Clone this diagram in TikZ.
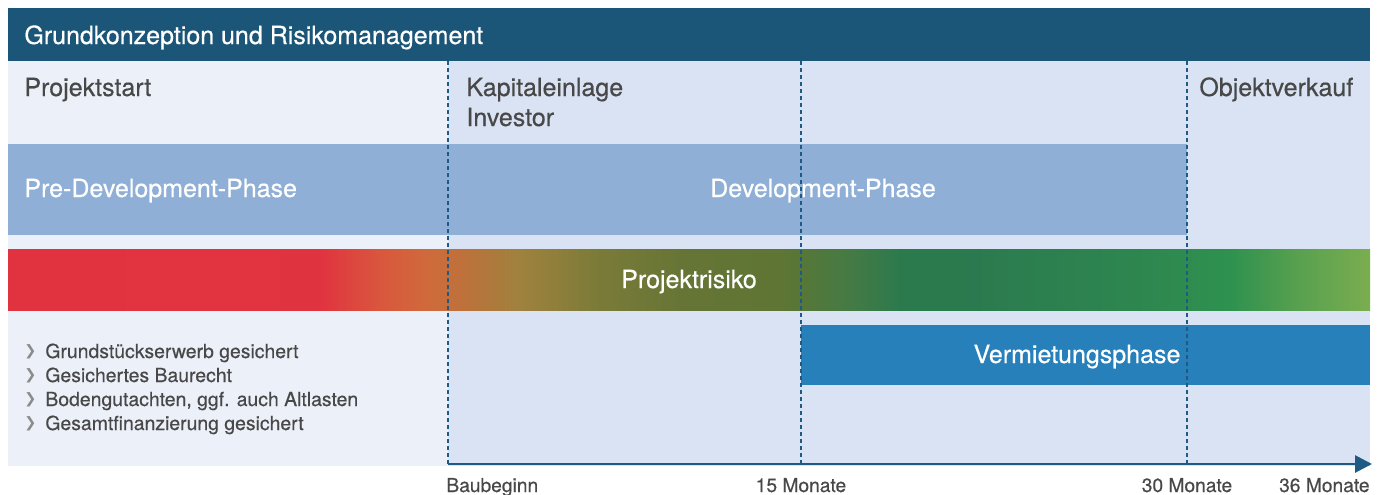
\documentclass[tikz,border=0pt]{standalone}
\usepackage{fontspec}
\setmainfont{TeX Gyre Heros}
\newfontfamily\mittel{TeX Gyre Heros}[FakeBold=0.45]
\newfontfamily\zeichen{DejaVu Sans}
\usepackage{tikz}
\usetikzlibrary{arrows.meta}

\definecolor{kopfblau}{HTML}{1B5679}
\definecolor{hellgrund}{HTML}{ECF0F9}
\definecolor{blaugrund}{HTML}{DAE3F3}
\definecolor{phasenblau}{HTML}{8FAFD6}
\definecolor{mietblau}{HTML}{2880BB}
\definecolor{textgrau}{HTML}{484848}
\definecolor{pfeilgrau}{HTML}{8C8C8C}
\definecolor{linienblau}{HTML}{1E5A82}

\pgfdeclarehorizontalshading{risiko}{100bp}{%
  rgb(0bp)=(0.89,0.19,0.25); rgb(36.45bp)=(0.88,0.20,0.25);
  rgb(38.66bp)=(0.85,0.34,0.24); rgb(40.49bp)=(0.81,0.42,0.23);
  rgb(41.59bp)=(0.75,0.44,0.23); rgb(43.80bp)=(0.62,0.51,0.24);
  rgb(46.73bp)=(0.48,0.48,0.22); rgb(49.67bp)=(0.40,0.46,0.21);
  rgb(53.34bp)=(0.37,0.46,0.20); rgb(55.91bp)=(0.27,0.48,0.27);
  rgb(57.75bp)=(0.17,0.48,0.30); rgb(60.68bp)=(0.17,0.48,0.31);
  rgb(66.92bp)=(0.18,0.53,0.31); rgb(69.86bp)=(0.18,0.57,0.31);
  rgb(72.43bp)=(0.35,0.63,0.31); rgb(75bp)=(0.48,0.68,0.31);
  rgb(100bp)=(0.48,0.68,0.31)}

\newcommand{\listpfeil}{\makebox[10.5pt][l]{\raisebox{1.1pt}{\color{pfeilgrau}\zeichen\fontsize{7.2}{8}\selectfont ❯}}}

\tikzset{
  kopftext/.style={anchor=base west,inner sep=0,text=white,font=\mittel\fontsize{12.5}{14}\selectfont},
  marke/.style={anchor=base west,inner sep=0,text=textgrau,font=\mittel\fontsize{12.5}{15}\selectfont},
  balkentext/.style={anchor=base,inner sep=0,text=white,font=\mittel\fontsize{12.5}{14}\selectfont},
  punkt/.style={anchor=base west,inner sep=0,text=textgrau,font=\mittel\fontsize{9.7}{10}\selectfont},
  zeitmarke/.style={inner sep=0,text=textgrau,font=\mittel\fontsize{9.6}{10}\selectfont},
  trenner/.style={linienblau,line width=0.7pt,dash pattern=on 2pt off 1.5pt}
}

\begin{document}
\begin{tikzpicture}[x=0.5pt,y=-0.5pt]
      \useasboundingbox (0,0) rectangle (1383,494);

      \fill[hellgrund] (8,61) rectangle (448,466);
      \fill[blaugrund] (448,61) rectangle (1370,466);
      \fill[kopfblau] (8,8) rectangle (1370,61);
      \fill[phasenblau] (8,144) rectangle (1187,235);
      \shade[shading=risiko] (8,249) rectangle (1370,310);
      \fill[mietblau] (801,325) rectangle (1370,385);

      \node[kopftext] (titel) at (24,44) {Grundkonzeption und Risikomanagement};

      \node[marke] (start) at (24,96) {Projektstart};
      \node[marke] (einlage) at (466,96) {Kapitaleinlage};
      \node[marke] (investor) at (466,126) {Investor};
      \node[marke] (verkauf) at (1199,96) {Objektverkauf};

      \node[balkentext,anchor=base west] (pre) at (24,197) {Pre-Development-Phase};
      \node[balkentext] (dev) at (823,197) {Development-Phase};
      \node[balkentext] (risk) at (689,288) {Projektrisiko};
      \node[balkentext] (miete) at (1077,363) {Vermietungsphase};

      \node[punkt] (p1) at (24,358) {\listpfeil Grundstückserwerb gesichert};
      \node[punkt] (p2) at (24,382) {\listpfeil Gesichertes Baurecht};
      \node[punkt] (p3) at (24,406) {\listpfeil Bodengutachten, ggf. auch Altlasten};
      \node[punkt] (p4) at (24,430) {\listpfeil Gesamtfinanzierung gesichert};

      \draw[trenner] (448,61) -- (448,464);
      \draw[trenner] (801,61) -- (801,464);
      \draw[trenner] (1187,61) -- (1187,464);

      \coordinate (t0) at (448,464);
      \coordinate (t1) at (1372,464);
      \draw[linienblau,line width=1.4pt,-{Triangle[length=8.5pt,width=8.5pt]}] (t0) -- (t1);

      \node[zeitmarke,anchor=base west] (bau) at (446,492) {Baubeginn};
      \node[zeitmarke,anchor=base] (m15) at (801,492) {15 Monate};
      \node[zeitmarke,anchor=base] (m30) at (1187,492) {30 Monate};
      \node[zeitmarke,anchor=base east] (m36) at (1370,492) {36 Monate};
    \end{tikzpicture}
\end{document}
